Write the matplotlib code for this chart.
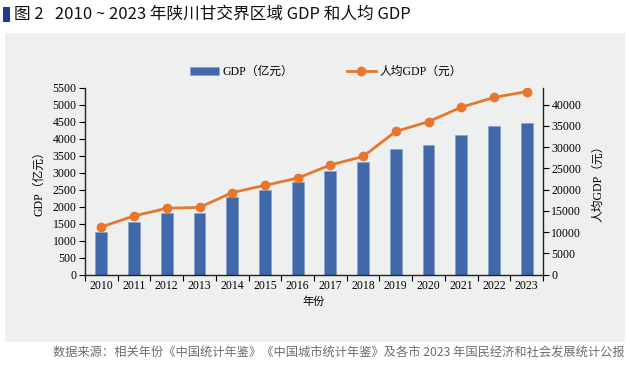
import matplotlib
matplotlib.use("Agg")
import matplotlib.pyplot as plt
from matplotlib.patches import Rectangle
import numpy as np

years = ["2010", "2011", "2012", "2013", "2014", "2015", "2016",
         "2017", "2018", "2019", "2020", "2021", "2022", "2023"]
gdp = [1260, 1560, 1820, 1810, 2290, 2500, 2710,
       3050, 3300, 3700, 3810, 4110, 4370, 4450]
gdp_per_capita = [11200, 13800, 15600, 15800, 19300, 21000, 22700,
                  25800, 27800, 33700, 36000, 39400, 41700, 43100]

BAR_COLOR = '#4169a9'
LINE_COLOR = '#e8772e'
BG = '#eef0ef'
SERIF = ['Liberation Serif', 'Noto Sans CJK SC']
CJK = ['Noto Sans CJK SC', 'DejaVu Sans']
TICK_FONTSIZE = 8.5

fig = plt.figure(figsize=(6.3, 3.66), dpi=100)
fig.patch.set_facecolor('white')

# grey panel behind the chart
fig.patches.append(Rectangle((5/630, 1-342/366), 620/630, 309/366,
                             transform=fig.transFigure, facecolor=BG,
                             edgecolor='none', zorder=-2))
# little blue block before the title
fig.patches.append(Rectangle((3/630, 1-22/366), 7/630, 15/366,
                             transform=fig.transFigure, facecolor='#1f3d8c',
                             edgecolor='none', zorder=-1))
fig.text(14/630, 1-14.5/366, "图 2   2010 ~ 2023 年陕川甘交界区域 GDP 和人均 GDP",
         family=CJK, fontsize=12, fontweight='medium', va='center', ha='left',
         color='#111111')
fig.text(625/630, 1-353/366,
         "数据来源：相关年份《中国统计年鉴》《中国城市统计年鉴》及各市 2023 年国民经济和社会发展统计公报",
         family=CJK, fontsize=8.8, va='center', ha='right', color='#6e6e6e')

ax = fig.add_axes([85/630, 1-274.5/366, 458/630, 186.8/366])
ax.set_facecolor('none')
x = np.arange(len(years))
bars = ax.bar(x, gdp, width=0.36, color=BAR_COLOR, edgecolor='#7f9ccc',
              linewidth=0.4, label="GDP（亿元）", zorder=2)
ax.set_xlim(-0.5, len(years) - 0.5)
ax.set_ylim(0, 5500)
ax.set_yticks(np.arange(0, 5501, 500))
ax.set_xticks(x)
ax.set_xticklabels(years, family=SERIF, fontsize=TICK_FONTSIZE)
ax.set_xticks(np.arange(-0.5, len(years), 1), minor=True)
ax.tick_params(axis='x', which='major', length=0, pad=4)
ax.tick_params(axis='x', which='minor', length=4, direction='out', width=0.8)
ax.tick_params(axis='y', length=4, direction='out', width=0.8, pad=2)
for lab in ax.get_yticklabels():
    lab.set_family(SERIF)
    lab.set_fontsize(TICK_FONTSIZE)
ax.spines['top'].set_visible(False)
ax.spines['right'].set_visible(False)
for s in ['left', 'bottom']:
    ax.spines[s].set_linewidth(1.0)
    ax.spines[s].set_color('#222222')
ax.set_ylabel("GDP（亿元）", family=SERIF, fontsize=TICK_FONTSIZE, labelpad=5)
ax.set_xlabel("年份", family=CJK, fontsize=8, labelpad=3)

ax2 = ax.twinx()
line, = ax2.plot(x, gdp_per_capita, color=LINE_COLOR, linewidth=2.0,
                 marker='o', markersize=6, label="人均GDP（元）", zorder=3)
ax2.set_ylim(0, 44000)
ax2.set_yticks(np.arange(0, 40001, 5000))
ax2.tick_params(axis='y', length=4, direction='out', width=0.8, pad=2)
for lab in ax2.get_yticklabels():
    lab.set_family(SERIF)
    lab.set_fontsize(TICK_FONTSIZE)
ax2.spines['top'].set_visible(False)
ax2.spines['left'].set_visible(False)
ax2.spines['bottom'].set_visible(False)
ax2.spines['right'].set_linewidth(1.0)
ax2.spines['right'].set_color('#222222')
ax2.set_ylabel("人均GDP（元）", family=SERIF, fontsize=TICK_FONTSIZE,
               rotation=90, labelpad=8)

leg = fig.legend([bars, line], ["GDP（亿元）", "人均GDP（元）"],
                 loc='center', bbox_to_anchor=(326/630, 1-72/366), ncol=2,
                 frameon=False, prop={'family': SERIF, 'size': TICK_FONTSIZE},
                 handlelength=2.4, handletextpad=0.3, columnspacing=4.6)

fig.savefig("out.png", dpi=100)
